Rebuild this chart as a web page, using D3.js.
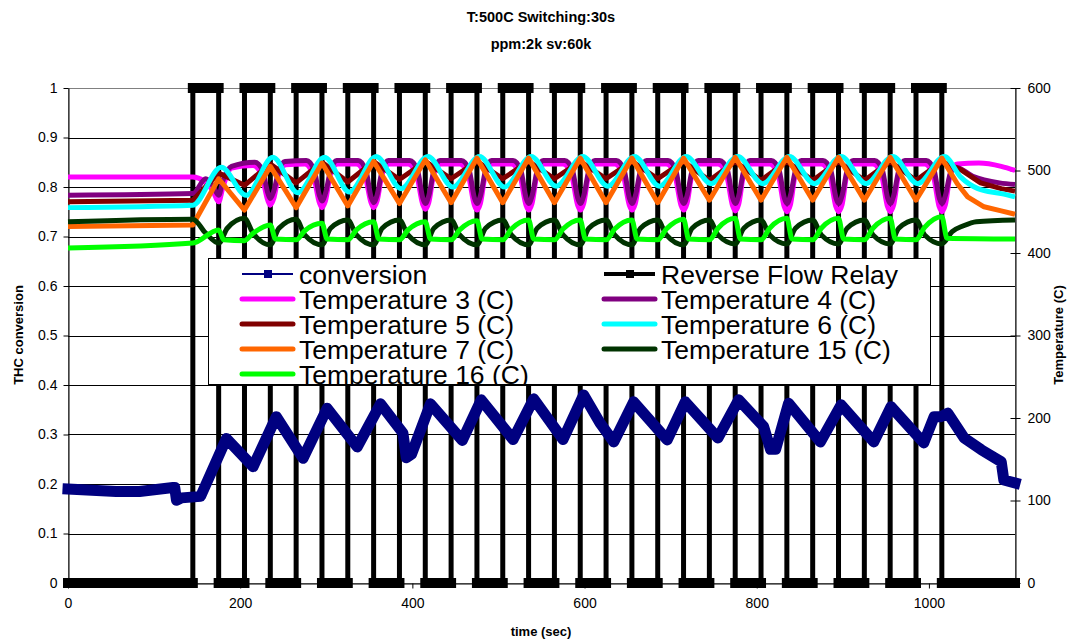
<!DOCTYPE html>
<html>
<head>
<meta charset="utf-8">
<script src="https://cdn.jsdelivr.net/npm/d3@7"></script>
<style>
  body { margin: 0; background: #fff; }
  svg text { font-family: "Liberation Sans", Arial, sans-serif; fill: #000; }
</style>
</head>
<body>
<svg id="chart" width="1073" height="644"></svg>
<script>
// time (sec) where the reverse flow relay flips, starting from 0 (off)
var relaySwitchTimes = [145, 175, 205, 235, 265, 295, 325, 355, 385, 415, 445, 475, 505, 535, 565,
  595, 625, 655, 685, 715, 745, 775, 805, 835, 865, 895, 925, 955, 985, 1015];
var relayEnd = 1100;

// THC conversion, [time, value]
var conversion = [[0,0.19],[56,0.185],[83,0.185],[122,0.193],[124,0.193],[126,0.167],[132,0.172],[154,0.175],
  [184,0.292],[215,0.235],[242,0.336],[273,0.252],[301,0.353],[336,0.275],[363,0.362],[389,0.303],[393,0.253],
  [399,0.26],[421,0.362],[458,0.288],[480,0.37],[517,0.29],[541,0.372],[575,0.29],[599,0.38],[618,0.323],
  [634,0.285],[657,0.366],[696,0.289],[717,0.366],[755,0.293],[779,0.37],[808,0.316],[816,0.27],[822,0.27],
  [837,0.363],[874,0.285],[898,0.36],[936,0.285],[956,0.356],[994,0.283],[1006,0.336],[1014,0.336],
  [1022,0.343],[1041,0.293],[1061,0.269],[1084,0.245],[1087,0.208],[1100,0.202]];

// temperatures (C), [time, value]
var temp3 = [[0,492],[145,492],[158,487],[168,476],[175,462],[180,480],[190,503],
  [215,506],[225,494],[232,464],[235,458],[239,466],[245,496],[253,507],
  [275,508],[285,494],[292,461],[295,455],[299,463],[305,496],[313,508],
  [335,508],[345,494],[352,461],[355,455],[359,463],[365,496],[373,508],
  [395,508],[405,494],[412,459],[415,453],[419,461],[425,496],[433,508],
  [455,508],[465,494],[472,458],[475,452],[479,460],[485,496],[493,508],
  [515,508],[525,494],[532,458],[535,452],[539,460],[545,496],[553,508],
  [575,508],[585,494],[592,458],[595,452],[599,460],[605,496],[613,508],
  [635,508],[645,494],[652,458],[655,452],[659,460],[665,496],[673,508],
  [695,508],[705,494],[712,458],[715,452],[719,460],[725,496],[733,508],
  [755,508],[765,494],[772,457],[775,451],[779,459],[785,496],[793,508],
  [815,508],[825,494],[832,456],[835,450],[839,458],[845,496],[853,508],
  [875,508],[885,494],[892,456],[895,450],[899,458],[905,496],[913,508],
  [935,508],[945,494],[952,456],[955,450],[959,458],[965,496],[973,508],
  [995,508],[1005,494],[1012,456],[1015,450],[1019,458],[1025,496],[1033,508],
  [1058,509],[1084,505],[1100,500]];

var temp4 = [[0,470],[145,472],[160,490],[168,482],[175,470],[180,488],[190,505],
  [217,510],[226,500],[232,473],[235,466],[239,475],[245,500],[252,511],
  [277,512],[286,500],[292,470],[295,463],[299,472],[305,500],[312,512],
  [337,512],[346,500],[352,468],[355,461],[359,470],[365,500],[372,512],
  [397,512],[406,500],[412,467],[415,460],[419,469],[425,500],[432,512],
  [457,512],[466,500],[472,467],[475,460],[479,469],[485,500],[492,512],
  [517,512],[526,500],[532,467],[535,460],[539,469],[545,500],[552,512],
  [577,512],[586,500],[592,467],[595,460],[599,469],[605,500],[612,512],
  [637,512],[646,500],[652,467],[655,460],[659,469],[665,500],[672,512],
  [697,512],[706,500],[712,467],[715,460],[719,469],[725,500],[732,512],
  [757,512],[766,500],[772,467],[775,460],[779,469],[785,500],[792,512],
  [817,512],[826,500],[832,467],[835,460],[839,469],[845,500],[852,512],
  [877,512],[886,500],[892,467],[895,460],[899,469],[905,500],[912,512],
  [937,512],[946,500],[952,467],[955,460],[959,469],[965,500],[972,512],
  [997,512],[1006,500],[1012,467],[1015,460],[1019,469],[1025,497],[1031,504],
  [1051,493],[1082,485],[1100,483]];

var temp5 = [[0,462],[145,464],[175,497],[205,482],[235,508],[265,485],[295,510],[325,486],[355,511],
  [385,489],[415,511],[445,490],[475,511],[505,490],[535,511],[565,490],[595,511],[625,490],[655,511],
  [685,490],[715,511],[745,488],[775,511],[805,488],[835,511],[865,488],[895,511],[925,488],[955,511],
  [985,488],[1015,511],[1037,501],[1060,485],[1084,478],[1100,475]];

var temp6 = [[0,455],[145,458],[178,504],[207,470],[238,516],[267,473],[298,516],[327,474],[358,517],
  [387,478],[418,517],[447,480],[478,517],[507,480],[538,517],[567,481],[598,517],[627,481],[658,517],
  [687,481],[718,517],[747,484],[778,517],[807,484],[838,517],[867,484],[898,517],[927,484],[958,517],
  [987,484],[1018,517],[1037,492],[1057,478],[1084,472],[1100,468]];

var temp7 = [[0,432],[145,434],[175,490],[205,452],[235,505],[265,455],[295,509],[325,457],[355,511],
  [385,460],[415,513],[445,461],[475,515],[505,461],[535,515],[565,461],[595,515],[625,461],[655,515],
  [685,461],[715,515],[745,464],[775,516],[805,464],[835,516],[865,464],[895,516],[925,464],[955,516],
  [985,464],[1015,515],[1033,484],[1045,468],[1064,456],[1084,451],[1100,447]];

var temp15 = [[0,438],[145,441],[160,424],[175,412],[185,430],
  [205,442],[215,424],[235,410],[245,430],[265,441],[275,422],[295,410],[305,430],
  [325,440],[335,422],[355,410],[365,430],[385,440],[395,422],[415,410],[425,430],
  [445,440],[455,422],[475,410],[485,430],[505,440],[515,422],[535,410],[545,430],
  [565,440],[575,422],[595,410],[605,430],[625,440],[635,422],[655,410],[665,430],
  [685,440],[695,422],[715,410],[725,430],[745,440],[755,422],[775,411],[785,430],
  [805,440],[815,422],[835,411],[845,430],[865,440],[875,422],[895,411],[905,430],
  [925,440],[935,422],[955,411],[965,430],[985,440],[995,422],[1015,411],
  [1027,426],[1040,433],[1055,438],[1100,440]];

var temp16 = [[0,406],[145,412],[175,428],[181,416],
  [205,415],[215,424],[235,434],[241,417],[265,416],[275,427],[295,436],[301,417],
  [325,416],[335,428],[355,438],[361,417],[385,416],[395,428],[415,438],[421,417],
  [445,416],[455,428],[475,439],[481,417],[505,416],[515,429],[535,440],[541,417],
  [565,416],[575,429],[595,440],[601,417],[625,416],[635,429],[655,440],[661,417],
  [685,416],[695,429],[715,441],[721,417],[745,416],[755,430],[775,442],[781,417],
  [805,416],[815,430],[835,442],[841,417],[865,416],[875,430],[895,442],[901,417],
  [925,416],[935,430],[955,442],[961,417],[985,416],[995,431],[1015,444],[1021,418],[1100,417]];

var timeTicks = [0, 200, 400, 600, 800, 1000];
var convTicks = [0, 0.1, 0.2, 0.3, 0.4, 0.5, 0.6, 0.7, 0.8, 0.9, 1];
var tempTicks = [0, 100, 200, 300, 400, 500, 600];

var tempSeries = [
  {name: 'Temperature 3 (C)', data: temp3, color: '#ff00ff', curve: d3.curveMonotoneX},
  {name: 'Temperature 4 (C)', data: temp4, color: '#800080', curve: d3.curveMonotoneX},
  {name: 'Temperature 5 (C)', data: temp5, color: '#800000', curve: d3.curveLinear},
  {name: 'Temperature 6 (C)', data: temp6, color: '#00ffff', curve: d3.curveMonotoneX},
  {name: 'Temperature 7 (C)', data: temp7, color: '#ff6600', curve: d3.curveLinear},
  {name: 'Temperature 15 (C)', data: temp15, color: '#003300', curve: d3.curveMonotoneX},
  {name: 'Temperature 16 (C)', data: temp16, color: '#00ff00', curve: d3.curveMonotoneX}
];

var plot = {left: 68, right: 1015, top: 88, bottom: 583};
var svg = d3.select('#chart');

var x = d3.scaleLinear().domain([0, 1100]).range([plot.left, plot.right]);
var yConv = d3.scaleLinear().domain([0, 1]).range([plot.bottom, plot.top]);
var yTemp = d3.scaleLinear().domain([0, 600]).range([plot.bottom, plot.top]);

// plot area border and gridlines
svg.append('rect')
  .attr('x', plot.left + 0.5).attr('y', plot.top + 0.5)
  .attr('width', plot.right - plot.left).attr('height', plot.bottom - plot.top)
  .attr('fill', '#fff').attr('stroke', '#808080');

svg.append('g').selectAll('line')
  .data(convTicks.filter(function(d) { return d > 0 && d < 1; }))
  .join('line')
  .attr('x1', plot.left).attr('x2', plot.right)
  .attr('y1', function(d) { return Math.round(yConv(d)) + 0.5; })
  .attr('y2', function(d) { return Math.round(yConv(d)) + 0.5; })
  .attr('stroke', '#000').attr('stroke-width', 1);

// axes
function styleAxis(g) {
  g.select('.domain').attr('stroke', '#000');
  g.selectAll('.tick line').attr('stroke', '#000');
  g.selectAll('.tick text').attr('font-size', 14).attr('fill', '#000')
    .attr('font-family', '"Liberation Sans", Arial, sans-serif');
}

svg.append('g')
  .attr('transform', 'translate(' + (plot.left + 0.5) + ',0)')
  .call(d3.axisLeft(yConv).tickValues(convTicks).tickSize(5).tickSizeOuter(0).tickPadding(6).tickFormat(d3.format('~g')))
  .call(styleAxis);

svg.append('g')
  .attr('transform', 'translate(' + (plot.right + 0.5) + ',0)')
  .call(d3.axisRight(yTemp).tickValues(tempTicks).tickSize(5).tickSizeOuter(0).tickPadding(7))
  .call(styleAxis)
  .selectAll('.tick line').attr('x1', -5);

svg.append('g')
  .attr('transform', 'translate(0,' + (plot.bottom + 0.5) + ')')
  .call(d3.axisBottom(x).tickValues(timeTicks).tickSize(5).tickSizeOuter(0).tickPadding(10).tickFormat(d3.format('d')))
  .call(styleAxis);

// reverse flow relay: square wave from the switch times
var relayPoints = [[0, 0]];
var relayRuns = [];
var level = 0, runStart = 0;
relaySwitchTimes.forEach(function(t) {
  relayRuns.push({t0: runStart, t1: t, level: level});
  relayPoints.push([t, level]);
  level = 1 - level;
  relayPoints.push([t, level]);
  runStart = t;
});
relayRuns.push({t0: runStart, t1: relayEnd, level: level});
relayPoints.push([relayEnd, level]);

var convLine = d3.line()
  .x(function(d) { return x(d[0]); })
  .y(function(d) { return yConv(d[1]); });

svg.append('path')
  .datum(relayPoints)
  .attr('d', convLine)
  .attr('fill', 'none').attr('stroke', '#000').attr('stroke-width', 5);

// the dense square markers make a thick band on each flat run
svg.append('g').selectAll('line')
  .data(relayRuns)
  .join('line')
  .attr('x1', function(d) { return x(d.t0); })
  .attr('x2', function(d) { return x(d.t1); })
  .attr('y1', function(d) { return yConv(d.level); })
  .attr('y2', function(d) { return yConv(d.level); })
  .attr('stroke', '#000').attr('stroke-width', 10).attr('stroke-linecap', 'square');

// conversion
svg.append('path')
  .datum(conversion)
  .attr('d', convLine)
  .attr('fill', 'none').attr('stroke', '#000080').attr('stroke-width', 11)
  .attr('stroke-linejoin', 'round').attr('stroke-linecap', 'square');

// temperatures on the right axis
tempSeries.forEach(function(s) {
  var line = d3.line()
    .curve(s.curve)
    .x(function(d) { return x(d[0]); })
    .y(function(d) { return yTemp(d[1]); });
  svg.append('path')
    .datum(s.data)
    .attr('d', line)
    .attr('fill', 'none').attr('stroke', s.color).attr('stroke-width', 5)
    .attr('stroke-linejoin', 'round');
});

// legend
var legend = svg.append('g');
legend.append('rect')
  .attr('x', 208.5).attr('y', 258.5).attr('width', 722).attr('height', 126)
  .attr('fill', '#fff').attr('stroke', '#000');

var legendItems = [
  {name: 'conversion', color: '#000080', width: 2, marker: true},
  {name: 'Reverse Flow Relay', color: '#000', width: 4, marker: true}
].concat(tempSeries.map(function(s) {
  return {name: s.name, color: s.color, width: 5, marker: false};
}));

var clip = svg.append('clipPath').attr('id', 'legend-clip');
clip.append('rect').attr('x', 209).attr('y', 259).attr('width', 721).attr('height', 125);

var rows = legend.append('g').attr('clip-path', 'url(#legend-clip)')
  .selectAll('g')
  .data(legendItems)
  .join('g')
  .attr('transform', function(d, i) {
    var col = i % 2, row = Math.floor(i / 2);
    return 'translate(' + (col ? 604 : 242) + ',' + (274 + row * 25) + ')';
  });

rows.append('line')
  .attr('x1', 0).attr('x2', 51).attr('y1', 0).attr('y2', 0)
  .attr('stroke', function(d) { return d.color; })
  .attr('stroke-width', function(d) { return d.width; })
  .attr('stroke-linecap', function(d) { return d.marker ? 'butt' : 'round'; });

rows.filter(function(d) { return d.marker; })
  .append('rect')
  .attr('x', 22).attr('y', -4).attr('width', 8).attr('height', 8)
  .attr('fill', function(d) { return d.color; });

rows.append('text')
  .attr('x', 57).attr('y', 0).attr('dy', '0.36em')
  .attr('font-size', 26.5)
  .text(function(d) { return d.name; });

// titles
svg.append('text').attr('x', 541).attr('y', 22).attr('text-anchor', 'middle')
  .attr('font-size', 14.5).attr('font-weight', 'bold').text('T:500C Switching:30s');
svg.append('text').attr('x', 541).attr('y', 49).attr('text-anchor', 'middle')
  .attr('font-size', 14.5).attr('font-weight', 'bold').text('ppm:2k sv:60k');

svg.append('text').attr('x', 541).attr('y', 636).attr('text-anchor', 'middle')
  .attr('font-size', 13).attr('font-weight', 'bold').text('time (sec)');

svg.append('text').attr('transform', 'translate(23,335) rotate(-90)').attr('text-anchor', 'middle')
  .attr('font-size', 13).attr('font-weight', 'bold').text('THC conversion');

svg.append('text').attr('transform', 'translate(1063,335) rotate(-90)').attr('text-anchor', 'middle')
  .attr('font-size', 13).attr('font-weight', 'bold').text('Temperature (C)');
</script>
</body>
</html>
